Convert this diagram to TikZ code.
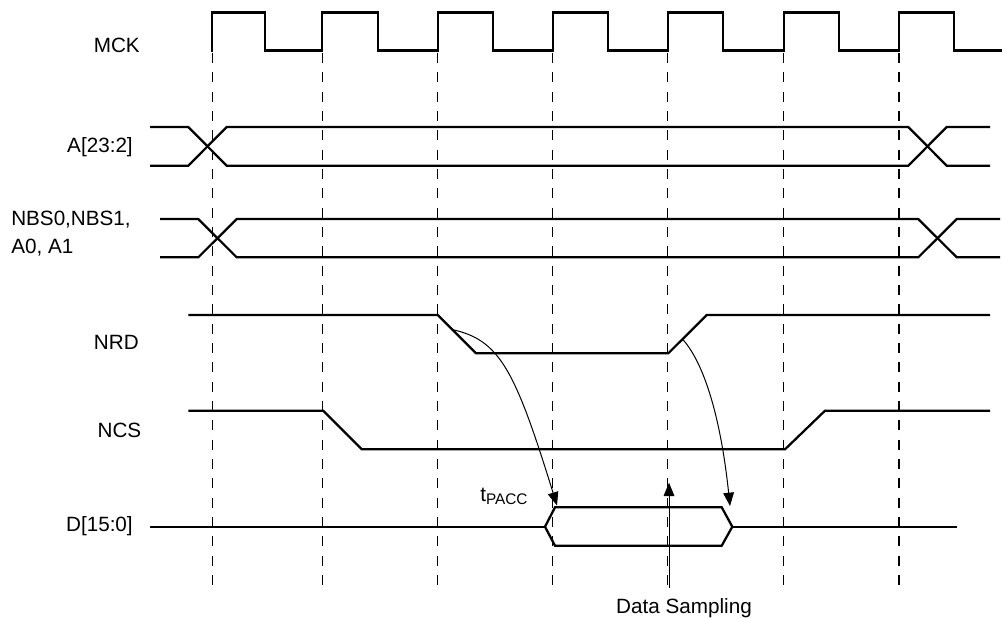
\documentclass[tikz,border=0pt]{standalone}
\usepackage{fontspec}
\setmainfont{Liberation Sans}
\usetikzlibrary{arrows.meta}
\begin{document}
\begin{tikzpicture}[x=0.75pt,y=-0.75pt,
  sig/.style={line width=1.7pt, line join=miter},
  gridline/.style={line width=0.9pt, dash pattern=on 7.5pt off 7pt},
  lbl/.style={font=\fontsize{15.5}{21}\selectfont, inner sep=0pt},
  arr/.style={line width=0.75pt, -{Triangle[length=10pt,width=8pt]}}]
\useasboundingbox (0,0) rectangle (1002,618);
% dashed grid
\foreach \x [count=\i] in {212.3,322.3,437.7,552.7,667.7,783.7,899} {
  \draw[gridline] (\x,53) -- (\x,586);
}
% MCK
\draw[sig] (212.3,51) \foreach \r/\f in {212.3/265.3,322.3/378,437.7/493.3,552.7/607.7,667.7/723.3,783.7/839,899/954.3}{ -- (\r,50.5) -- (\r,12.5) -- (\f,12.5) -- (\f,50.5)} -- (1002,50.5);
% A[23:2]
\draw[sig] (150,127) -- (188.3,127) -- (226.7,165.7) -- (908.3,165.7) -- (946.7,127) -- (990,127);
\draw[sig] (150,165.7) -- (188.3,165.7) -- (226.7,127) -- (908.3,127) -- (946.7,165.7) -- (990,165.7);
% NBS0...
\draw[sig] (160,219) -- (198.3,219) -- (236.7,257.3) -- (918.3,257.3) -- (956.7,219) -- (1000,219);
\draw[sig] (160,257.3) -- (198.3,257.3) -- (236.7,219) -- (918.3,219) -- (956.7,257.3) -- (1000,257.3);
% NRD
\draw[sig] (188.3,315) -- (437.7,315) -- (476,353.3) -- (668.3,353.3) -- (706.7,315) -- (990,315);
% NCS
\draw[sig] (188.3,410.7) -- (323.3,410.7) -- (361.7,449.3) -- (785,449.3) -- (825,410.7) -- (990,410.7);
% D[15:0]
\draw[sig] (150,526.7) -- (545,526.7);
\draw[sig] (545,526.7) -- (555,507.3) -- (721.7,507.3) -- (732.3,526.7) -- (721.7,545.7) -- (555,545.7) -- cycle;
\draw[sig] (732.3,526.7) -- (956.7,526.7);
% coordinates for connectors
\coordinate (nrdfall) at (452,329.5);
\coordinate (nrdrise) at (683.3,340);
\coordinate (dstart) at (557,505.5);
\coordinate (dend) at (730,506);
\coordinate (sampfoot) at (669,588);
\coordinate (samptip) at (669,482.7);
\draw[arr] (nrdfall) .. controls (500,340) and (515,370) .. (dstart);
\draw[arr] (nrdrise) .. controls (705,365) and (721,420) .. (dend);
\draw[arr] (sampfoot) -- (samptip);
% labels
\node[lbl, anchor=east] (lmck) at (140,45) {MCK};
\node[lbl, anchor=east] (la) at (133,147) {A[23:2]};
\node[lbl, anchor=west, align=left] (lnbs) at (11,234) {NBS0,NBS1,\\A0, A1};
\node[lbl, anchor=east] (lnrd) at (139,342) {NRD};
\node[lbl, anchor=east] (lncs) at (141.5,430) {NCS};
\node[lbl, anchor=east] (ld) at (133,526) {D[15:0]};
\node[lbl, anchor=base west] (ltp) at (480,501.5) {t\raisebox{-0.3ex}{\fontsize{11.5}{12}\selectfont PACC}};
\node[lbl] (lds) at (684,608) {Data Sampling};
\end{tikzpicture}
\end{document}
